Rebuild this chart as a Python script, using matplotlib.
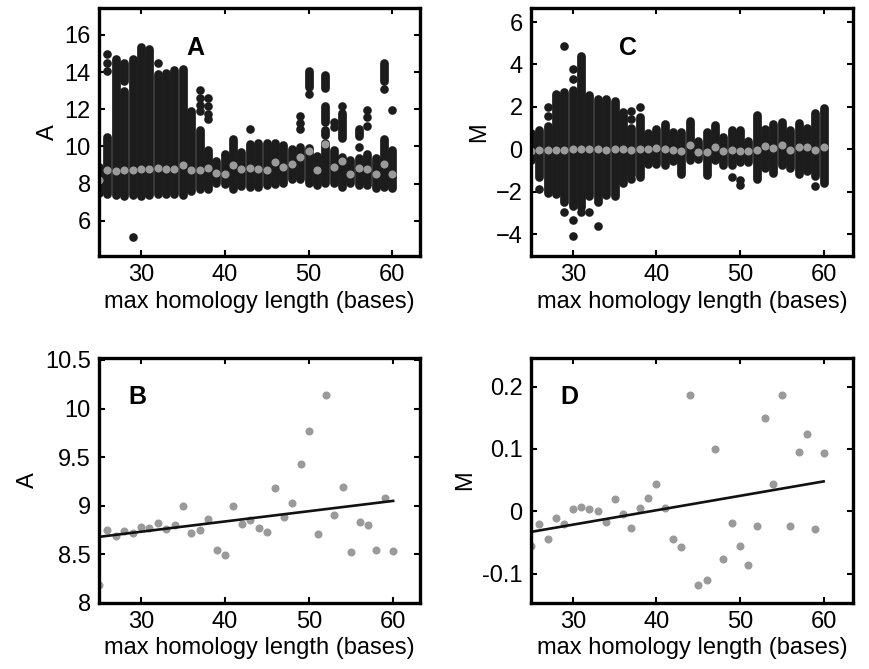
"""Four-panel figure: intensity (A) and log-ratio (M) vs max homology length"""

import matplotlib
matplotlib.use("Agg")
import matplotlib.pyplot as plt

plt.rcParams['font.family'] = ['Liberation Sans', 'DejaVu Sans']

# ---- data ----------------------------------------------------------------
lengths = list(range(25, 61))

# panel A: main column of spots per length (low, high)
a_lo = [7.5, 7.45, 7.4, 7.35, 7.4, 7.35, 7.4, 7.42, 7.45, 7.45, 7.4, 7.6,
        7.7, 7.7, 8.05, 8.0, 7.7, 7.85, 7.8, 7.8, 7.9, 8.0, 8.05, 8.25,
        8.25, 8.05, 7.9, 8.05, 8.05, 7.8, 8.05, 7.9, 7.95, 7.75, 7.8, 7.75]
a_hi = [8.9, 10.5, 14.7, 13.0, 14.7, 15.35, 15.25, 13.9, 13.95, 14.1, 14.15,
        11.9, 10.9, 9.8, 9.2, 9.6, 10.4, 9.7, 10.15, 10.2, 10.2, 10.2, 10.1,
        9.85, 9.95, 9.9, 9.5, 10.2, 9.8, 9.45, 9.25, 9.4, 9.6, 9.4, 10.4, 9.8]
# detached runs of spots (length, low, high)
a_runs = [(28, 13.5, 14.5), (50, 13.2, 14.05), (52, 13.15, 13.85),
          (52, 11.3, 12.15), (52, 10.6, 10.9), (54, 10.45, 11.8),
          (56, 10.55, 10.95), (59, 13.5, 14.5)]
# isolated spots (length, value)
a_dots = [(26, 14.95), (26, 14.5), (26, 14.05), (29, 5.12), (32, 14.5),
          (37, 13.05), (37, 12.6), (37, 12.25), (37, 11.9), (38, 12.6),
          (38, 12.2), (38, 11.75), (38, 11.45), (43, 10.95), (49, 11.65),
          (49, 11.25), (49, 10.95), (50, 12.83), (53, 11.3), (53, 11.05),
          (54, 12.15), (56, 9.95), (57, 11.95), (57, 11.6), (57, 11.1),
          (59, 13.1), (60, 11.95)]

# panel C: main column of spots per length (low, high)
m_lo = [-0.5, -1.3, -2.05, -2.1, -2.5, -2.65, -2.7, -2.2, -2.5, -2.15, -2.2,
        -1.6, -1.2, -1.3, -0.7, -0.7, -0.75, -0.55, -1.15, -0.5, -0.45, -1.2,
        -0.5, -0.75, -0.75, -0.6, -0.6, -1.4, -0.9, -1.1, -0.75, -0.9, -1.15,
        -1.0, -1.25, -1.6]
m_hi = [0.78, 0.9, 1.1, 2.6, 2.7, 2.8, 4.4, 2.55, 2.35, 2.35, 2.3, 1.75, 1.0,
        1.5, 0.75, 0.95, 1.2, 0.8, 0.8, 1.35, 0.4, 0.8, 1.15, 0.6, 0.9, 0.9,
        0.4, 1.6, 0.95, 1.2, 1.3, 0.9, 1.25, 1.0, 1.7, 1.95]
m_dots = [(26, -1.85), (27, 2.0), (27, 1.55), (29, 4.88), (29, -2.95),
          (30, 3.8), (30, 3.3), (30, -3.35), (30, -4.1), (31, -2.95),
          (32, -2.95), (33, -3.6), (37, 1.8), (37, 1.45), (37, -1.4),
          (38, 2.0), (49, -1.3), (50, -1.45), (50, -1.7), (59, -1.75)]

# panels B / D: median per length (also the grey spots in A / C)
a_median = [8.18, 8.75, 8.69, 8.74, 8.72, 8.78, 8.77, 8.82, 8.76, 8.80, 9.00,
            8.72, 8.75, 8.86, 8.55, 8.49, 9.00, 8.81, 8.85, 8.77, 8.73, 9.18,
            8.88, 9.03, 9.43, 9.77, 8.71, 10.14, 8.90, 9.19, 8.52, 8.83, 8.80,
            8.54, 9.08, 8.53]
m_median = [-0.056, -0.021, -0.045, -0.010, -0.020, 0.004, 0.0075, 0.0033,
            0.0012, -0.017, 0.020, -0.005, -0.027, 0.006, 0.022, 0.044,
            0.0055, -0.044, -0.057, 0.186, -0.1185, -0.110, 0.0995, -0.076,
            -0.019, -0.056, -0.086, -0.023, 0.149, 0.044, 0.186, -0.024,
            0.095, 0.124, -0.028, 0.094]

# regression lines (end points)
fit_x = [25, 60]
a_fit = [8.68, 9.05]
m_fit = [-0.033, 0.048]

XLABEL = "max homology length (bases)"
SPOT = "#1c1c1c"
GREY = "#9a9a9a"
COL_W = 6.3


def style_axes(ax, xlim, ylim, yticks, ylabel, letter, lx):
    ax.set_xlim(*xlim)
    ax.set_ylim(*ylim)
    ax.set_xticks([30, 40, 50, 60])
    ax.set_yticks(yticks)
    ax.tick_params(direction="in", length=4, width=1.5, labelsize=17,
                   top=True, right=True, pad=6)
    for s in ax.spines.values():
        s.set_linewidth(2.4)
    ax.set_xlabel(XLABEL, fontsize=17, labelpad=3)
    ax.set_ylabel(ylabel, fontsize=17)
    ax.text(lx, 0.84, letter, transform=ax.transAxes, fontsize=18,
            fontweight="bold", ha="center", va="center")


def spot_panel(ax, lo, hi, runs, dots, median):
    ax.vlines(lengths, lo, hi, color=SPOT, lw=COL_W, capstyle="round")
    if runs:
        ax.vlines([r[0] for r in runs], [r[1] for r in runs],
                  [r[2] for r in runs], color=SPOT, lw=COL_W, capstyle="round")
    ax.plot([d[0] for d in dots], [d[1] for d in dots], "o", color=SPOT,
            ms=6.2, mec="none")
    ax.plot(lengths, median, "o", color=GREY, ms=5.8, mec="none")


fig = plt.figure(figsize=(8.7, 6.69), dpi=100)
w, h = 0.369, 0.3707
ax_a = fig.add_axes([0.1138, 0.6173, w, h])
ax_c = fig.add_axes([0.6103, 0.6173, 0.370, h])
ax_b = fig.add_axes([0.1138, 0.0987, w, 0.3662])
ax_d = fig.add_axes([0.6103, 0.0987, 0.370, 0.3662])

spot_panel(ax_a, a_lo, a_hi, a_runs, a_dots, a_median)
style_axes(ax_a, (25, 63.3), (4.1, 17.45), [6, 8, 10, 12, 14, 16], "A", "A", 0.30)

spot_panel(ax_c, m_lo, m_hi, [], m_dots, m_median)
style_axes(ax_c, (25, 63.5), (-5.03, 6.66), [-4, -2, 0, 2, 4, 6], "M", "C", 0.30)

ax_b.plot(lengths, a_median, "o", color=GREY, ms=5.8, mec="none")
ax_b.plot(fit_x, a_fit, "-", color="#111111", lw=1.9)
style_axes(ax_b, (25, 63.2), (8, 10.52), [8, 8.5, 9, 9.5, 10, 10.5], "A", "B", 0.12)
ax_b.set_yticklabels(["8", "8.5", "9", "9.5", "10", "10.5"])

ax_d.plot(lengths, m_median, "o", color=GREY, ms=5.8, mec="none")
ax_d.plot(fit_x, m_fit, "-", color="#111111", lw=1.9)
style_axes(ax_d, (25, 63.5), (-0.147, 0.246), [-0.1, 0, 0.1, 0.2], "M", "D", 0.12)
ax_d.set_yticklabels(["-0.1", "0", "0.1", "0.2"])

fig.savefig("out.png", dpi=100)
